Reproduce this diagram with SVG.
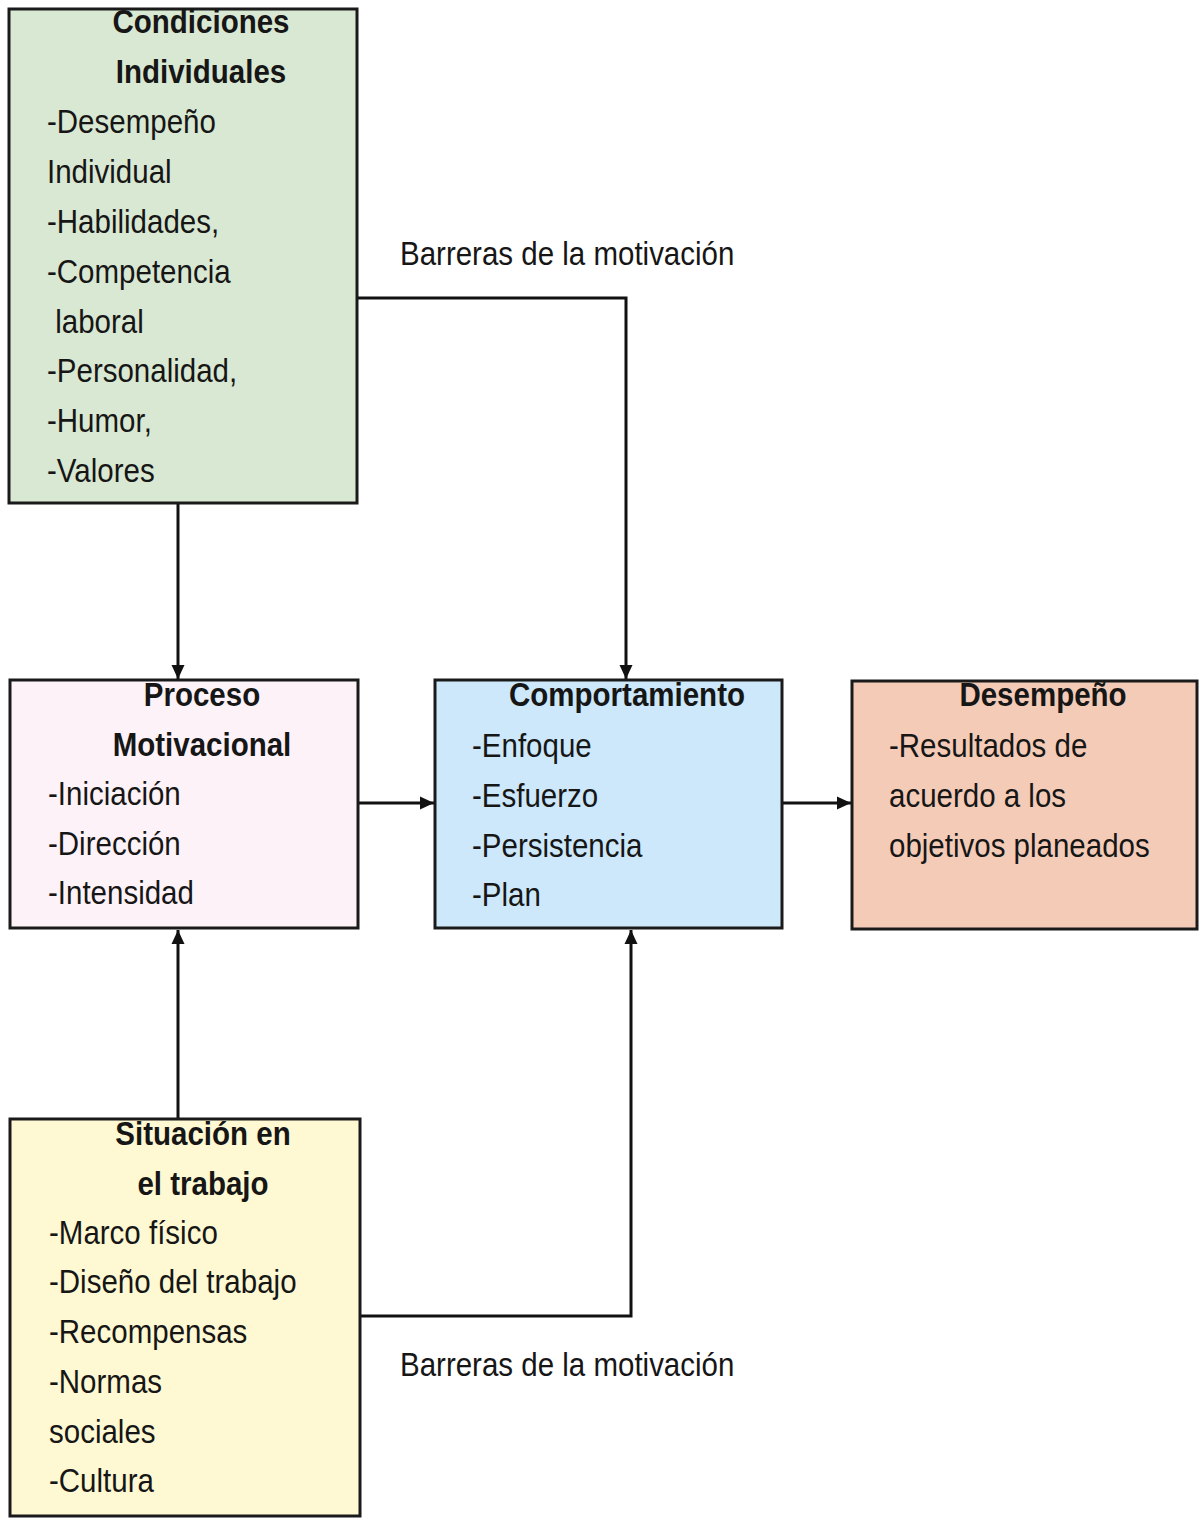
<svg xmlns="http://www.w3.org/2000/svg" width="1199" height="1518" viewBox="0 0 1199 1518">
  <defs>
    <marker id="arrow" viewBox="0 0 14 14" refX="14" refY="7" markerWidth="15" markerHeight="14" markerUnits="userSpaceOnUse" orient="auto">
      <path d="M0,0.5 L14,7 L0,13.5 Z" fill="#111"/>
    </marker>
    <style>
      .box { stroke: #1a1a1a; stroke-width: 3; }
      .t { font-family: "Liberation Sans", Arial, sans-serif; font-size: 29.5px; fill: #161616; }
      .h { font-weight: bold; text-anchor: middle; }
      .wire { fill: none; stroke: #111; stroke-width: 3; }
    </style>
  </defs>
  <rect width="1199" height="1518" fill="#ffffff"/>

  <!-- connectors -->
  <g id="connectors">
    <path class="wire" d="M178,503 V679" marker-end="url(#arrow)"/>
    <path class="wire" d="M357,298 H626 V679" marker-end="url(#arrow)"/>
    <path class="wire" d="M358,803 H434" marker-end="url(#arrow)"/>
    <path class="wire" d="M782,803 H851" marker-end="url(#arrow)"/>
    <path class="wire" d="M178,1119 V930" marker-end="url(#arrow)"/>
    <path class="wire" d="M360,1316 H631 V930" marker-end="url(#arrow)"/>
  </g>

  <!-- connector labels (glyphs are drawn slightly tall: scale 1 x 1.1) -->
  <g id="labels">
    <text class="t" transform="translate(400,265) scale(1,1.1)">Barreras de la motivación</text>
    <text class="t" transform="translate(400,1376) scale(1,1.1)">Barreras de la motivación</text>
  </g>

  <g id="condiciones">
    <rect class="box" x="9" y="9" width="348" height="494" fill="#d9e8d2"/>
    <text class="t h" transform="translate(201,33) scale(1,1.1)">Condiciones</text>
    <text class="t h" transform="translate(201,83) scale(1,1.1)">Individuales</text>
    <text class="t" transform="translate(47,133) scale(1,1.1)">-Desempeño</text>
    <text class="t" transform="translate(47,183) scale(1,1.1)">Individual</text>
    <text class="t" transform="translate(47,233) scale(1,1.1)">-Habilidades,</text>
    <text class="t" transform="translate(47,283) scale(1,1.1)">-Competencia</text>
    <text class="t" transform="translate(47,333) scale(1,1.1)" xml:space="preserve"> laboral</text>
    <text class="t" transform="translate(47,382) scale(1,1.1)">-Personalidad,</text>
    <text class="t" transform="translate(47,432) scale(1,1.1)">-Humor,</text>
    <text class="t" transform="translate(47,482) scale(1,1.1)">-Valores</text>
  </g>

  <g id="proceso">
    <rect class="box" x="10" y="680" width="348" height="248" fill="#fdf2f8"/>
    <text class="t h" transform="translate(202,706) scale(1,1.1)">Proceso</text>
    <text class="t h" transform="translate(202,756) scale(1,1.1)">Motivacional</text>
    <text class="t" transform="translate(48,805) scale(1,1.1)">-Iniciación</text>
    <text class="t" transform="translate(48,855) scale(1,1.1)">-Dirección</text>
    <text class="t" transform="translate(48,904) scale(1,1.1)">-Intensidad</text>
  </g>

  <g id="comportamiento">
    <rect class="box" x="435" y="680" width="347" height="248" fill="#cce8fa"/>
    <text class="t h" transform="translate(627,706) scale(1,1.1)">Comportamiento</text>
    <text class="t" transform="translate(472,757) scale(1,1.1)">-Enfoque</text>
    <text class="t" transform="translate(472,807) scale(1,1.1)">-Esfuerzo</text>
    <text class="t" transform="translate(472,857) scale(1,1.1)">-Persistencia</text>
    <text class="t" transform="translate(472,906) scale(1,1.1)">-Plan</text>
  </g>

  <g id="desempeno">
    <rect class="box" x="852" y="681" width="345" height="248" fill="#f4cbb7"/>
    <text class="t h" transform="translate(1043,706) scale(1,1.1)">Desempeño</text>
    <text class="t" transform="translate(889,757) scale(1,1.1)">-Resultados de</text>
    <text class="t" transform="translate(889,807) scale(1,1.1)">acuerdo a los</text>
    <text class="t" transform="translate(889,857) scale(1,1.1)">objetivos planeados</text>
  </g>

  <g id="situacion">
    <rect class="box" x="10" y="1119" width="350" height="397" fill="#fef9d2"/>
    <text class="t h" transform="translate(203,1145) scale(1,1.1)">Situación en</text>
    <text class="t h" transform="translate(203,1195) scale(1,1.1)">el trabajo</text>
    <text class="t" transform="translate(49,1244) scale(1,1.1)">-Marco físico</text>
    <text class="t" transform="translate(49,1293) scale(1,1.1)">-Diseño del trabajo</text>
    <text class="t" transform="translate(49,1343) scale(1,1.1)">-Recompensas</text>
    <text class="t" transform="translate(49,1393) scale(1,1.1)">-Normas</text>
    <text class="t" transform="translate(49,1443) scale(1,1.1)">sociales</text>
    <text class="t" transform="translate(49,1492) scale(1,1.1)">-Cultura</text>
  </g>
</svg>
